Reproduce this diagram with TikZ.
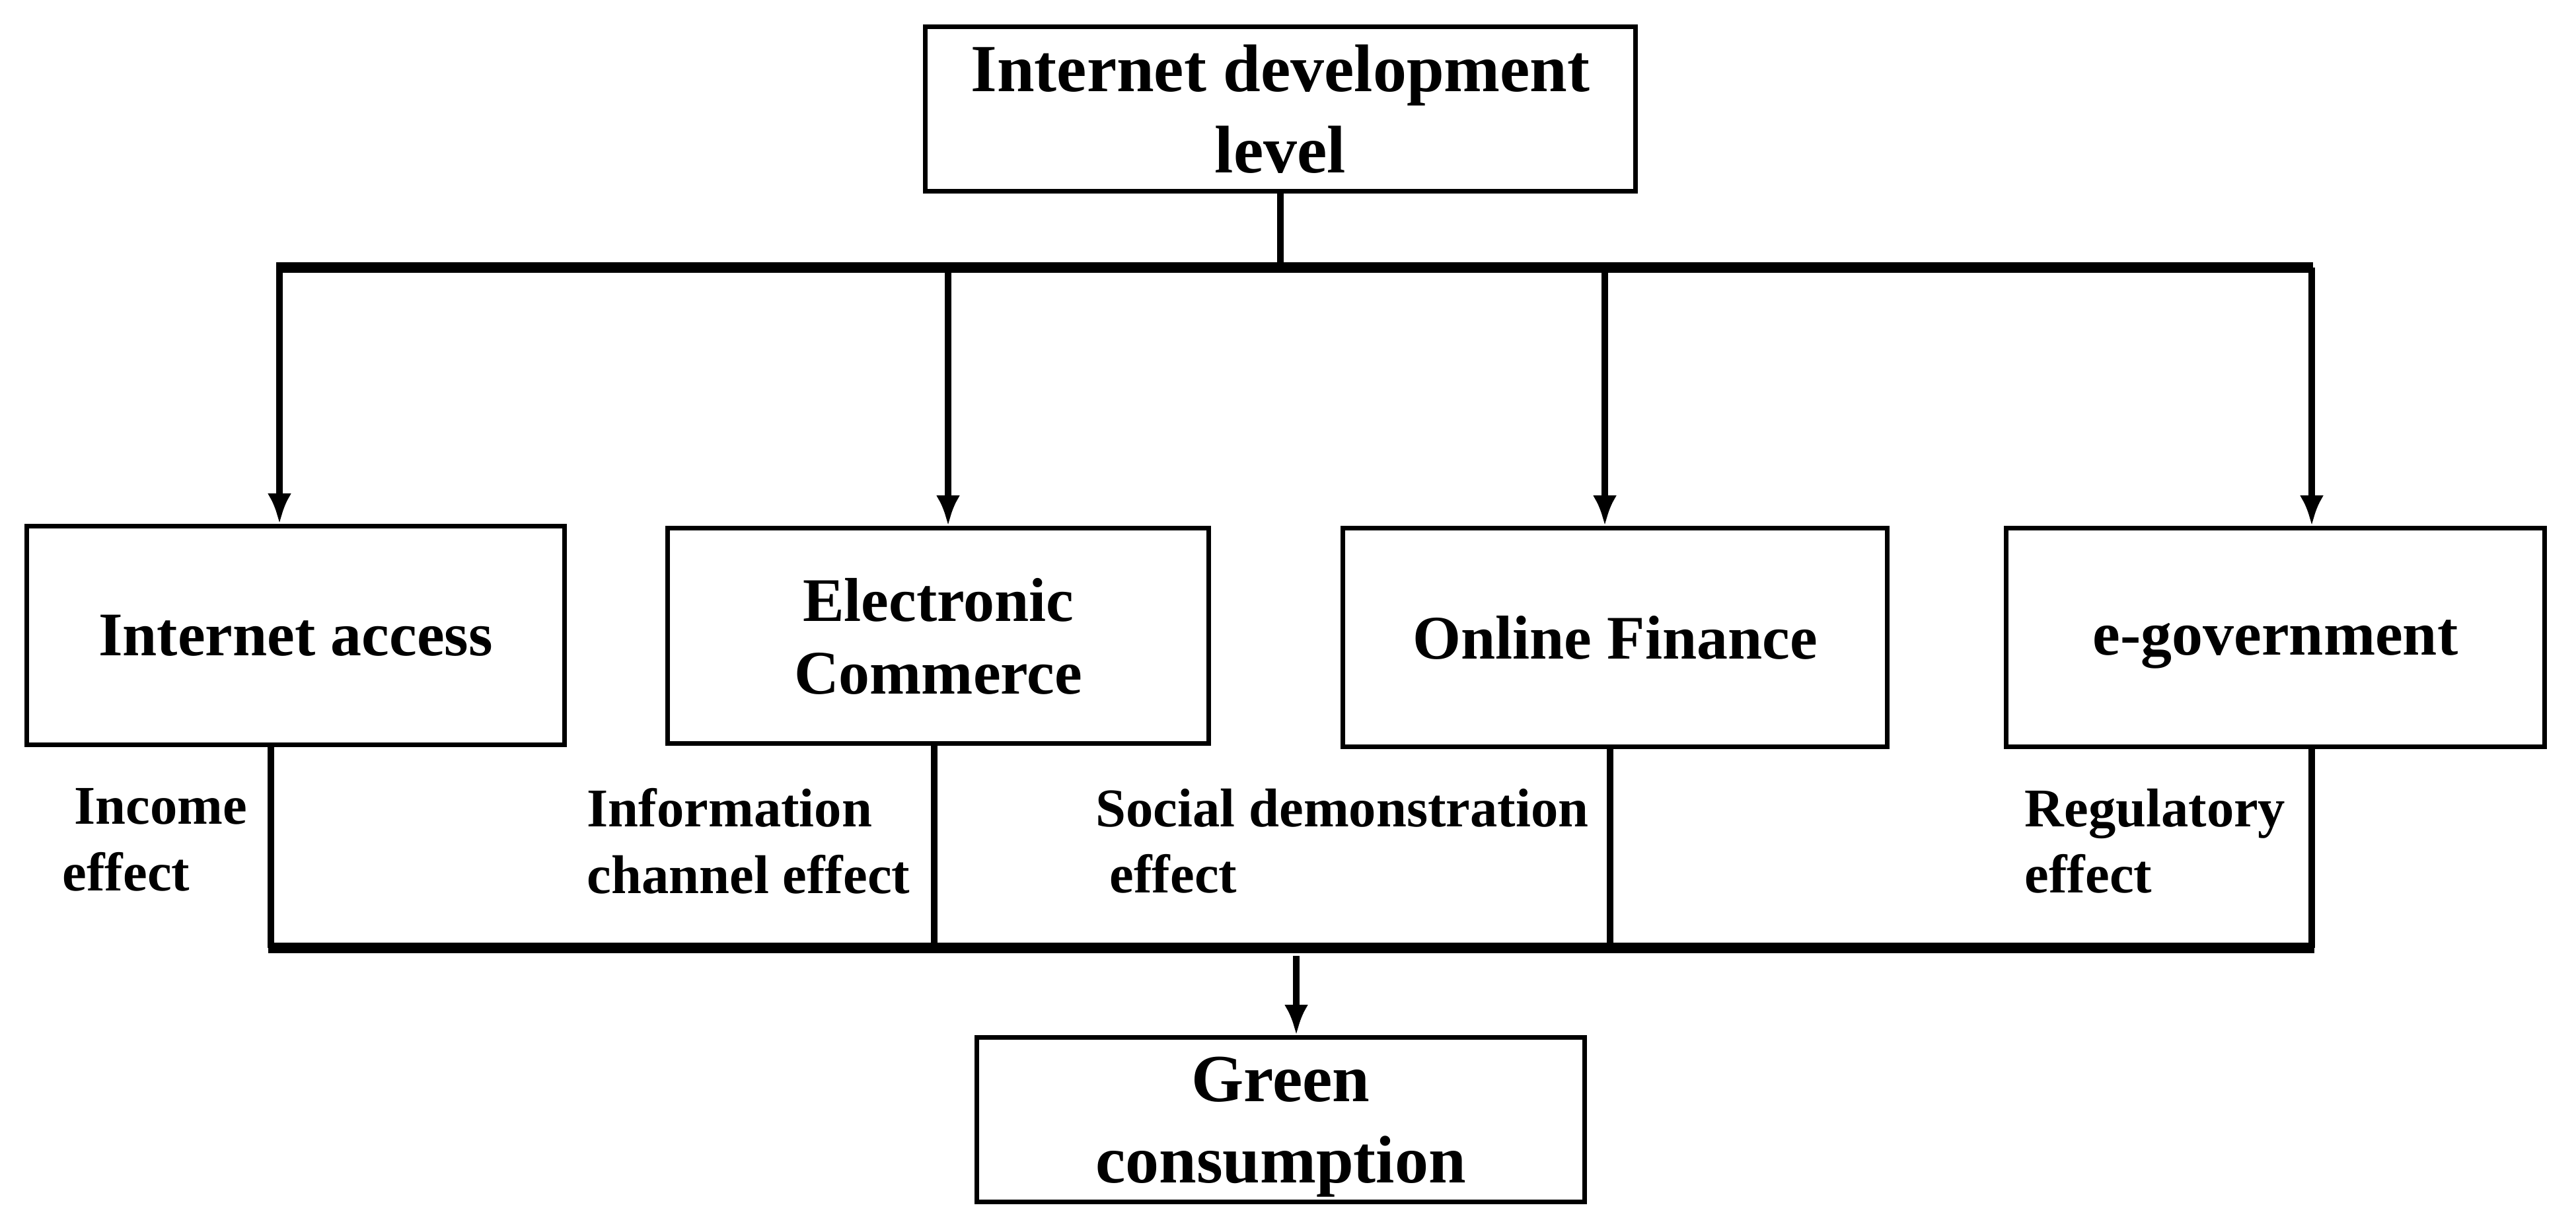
\documentclass[tikz,border=0pt]{standalone}
\usepackage{fontspec}
\setmainfont{Liberation Serif}
\usetikzlibrary{arrows.meta}

\begin{document}
\begin{tikzpicture}[
	box/.style={draw, line width=2pt, inner sep=0pt, align=center, text depth=0pt, font=\bfseries\fontsize{26.7}{31.3}\selectfont},
	bigbox/.style={box, font=\bfseries\fontsize{29}{35}\selectfont},
	link/.style={line width=2.6pt},
	bar/.style={line width=4.3pt},
	arr/.style={link, -{Latex[length=4.6mm,width=3.6mm]}},
	effect/.style={anchor=north west, inner sep=0pt, align=left, font=\bfseries\fontsize{23.5}{28.7}\selectfont}]
	\useasboundingbox (0,0) rectangle (38.99,-18.59);

	\node[bigbox, minimum width=10.75cm, minimum height=2.49cm] at (19.38,-1.65) (idl) {Internet development\\level};
	\node[box, minimum width=8.14cm, minimum height=3.31cm] at (4.475,-9.62) (ia) {Internet access};
	\node[box, minimum width=8.19cm, minimum height=3.26cm] at (14.20,-9.625) (ec) {Electronic\\Commerce};
	\node[box, minimum width=8.24cm, minimum height=3.31cm] at (24.445,-9.65) (of) {Online Finance};
	\node[box, minimum width=8.15cm, minimum height=3.31cm] at (34.44,-9.65) (eg) {e-government};
	\node[bigbox, minimum width=9.20cm, minimum height=2.49cm] at (19.385,-16.95) (gc) {Green\\consumption};

	\node[effect] at (0.94,-11.93) (inc) {\hspace*{0.18cm}Income\\effect};
	\node[effect] at (8.88,-11.93) (info) {Information\\channel effect};
	\node[effect] at (16.58,-11.93) (soc) {Social demonstration\\\hspace*{0.21cm}effect};
	\node[effect] at (30.64,-11.93) (reg) {Regulatory\\effect};

	\coordinate (tl) at (4.18,-4.05);
	\coordinate (tr) at (35.01,-4.05);
	\coordinate (t1) at (4.23,-4.05);
	\coordinate (t2) at (14.35,-4.05);
	\coordinate (t3) at (24.29,-4.05);
	\coordinate (t4) at (34.99,-4.05);
	\draw[link] (idl.south) -- (idl.south |- tl);
	\draw[bar] (tl) -- (tr);
	\draw[arr] (t1) -- (t1 |- ia.north);
	\draw[arr] (t2) -- (t2 |- ec.north);
	\draw[arr] (t3) -- (t3 |- of.north);
	\draw[arr] (t4) -- (t4 |- eg.north);

	\coordinate (bl) at (4.06,-14.35);
	\coordinate (br) at (35.03,-14.35);
	\coordinate (b1) at (4.10,-14.35);
	\coordinate (b2) at (14.14,-14.35);
	\coordinate (b3) at (24.37,-14.35);
	\coordinate (b4) at (34.99,-14.35);
	\coordinate (down) at (19.62,-14.47);
	\draw[link] (b1 |- ia.south) -- (b1);
	\draw[link] (b2 |- ec.south) -- (b2);
	\draw[link] (b3 |- of.south) -- (b3);
	\draw[link] (b4 |- eg.south) -- (b4);
	\draw[bar] (bl) -- (br);
	\draw[arr] (down) -- (down |- gc.north);
\end{tikzpicture}
\end{document}
